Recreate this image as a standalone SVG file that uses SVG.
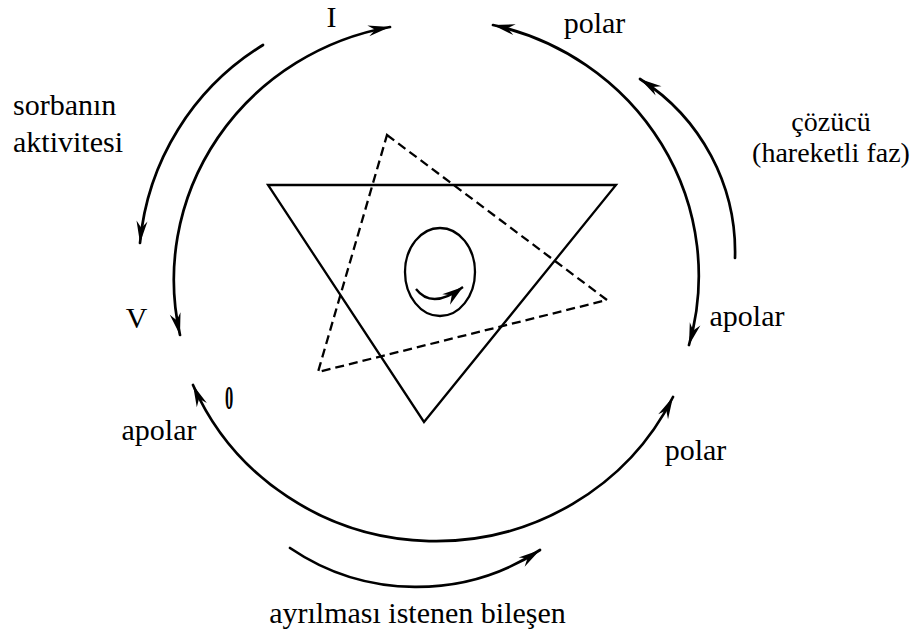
<svg xmlns="http://www.w3.org/2000/svg" width="924" height="644" viewBox="0 0 924 644">
<style>
.ln{fill:none;stroke:#000;stroke-width:2.7;stroke-linecap:round}
.sh{fill:none;stroke:#000;stroke-width:2.3;stroke-linejoin:miter}
.dash{fill:none;stroke:#000;stroke-width:2.3;stroke-dasharray:9 5}
.t{font-family:"Liberation Serif","Times New Roman",serif;font-size:30px;fill:#000}
.s{font-size:28px}
.m{text-anchor:middle}
</style>
<defs>
<marker id="ah" markerUnits="userSpaceOnUse" markerWidth="30" markerHeight="16" viewBox="-24 -8 26 16" refX="0" refY="0" orient="auto-start-reverse" overflow="visible">
<path d="M0,0 L-22,-5.5 L-15,0 L-22,5.5 Z" fill="#000"/>
</marker>
<marker id="ahs" markerUnits="userSpaceOnUse" markerWidth="24" markerHeight="16" viewBox="-22 -8 24 16" refX="0" refY="0" orient="auto" overflow="visible">
<path d="M0,0 L-21,-6.5 L-14,0 L-21,6.5 Z" fill="#000"/>
</marker>
</defs>
<rect width="924" height="644" fill="#fff"/>
<g id="connectors">
<path class="ln" d="M 180 335 A 264 257 0 0 1 390 27" marker-start="url(#ah)" marker-end="url(#ah)"/>
<path class="ln" d="M 493 25 A 264 257 0 0 1 689 345" marker-start="url(#ah)" marker-end="url(#ah)"/>
<path class="ln" d="M 673 397 A 264 257 0 0 1 193 385" marker-start="url(#ah)" marker-end="url(#ah)"/>
<path class="ln" d="M 263 45 A 260 260 0 0 0 140 243" marker-end="url(#ah)"/>
<path class="ln" d="M 735 258 A 205 205 0 0 0 640 79" marker-end="url(#ah)"/>
<path class="ln" d="M 290 548 A 225 225 0 0 0 540 550" marker-end="url(#ah)"/>
</g>
<g id="solid-triangle"><polygon class="sh" points="268,185 616,185 424,422"/></g>
<g id="dashed-triangle"><polygon class="dash" points="387,135 607,300 318,372"/></g>
<g id="ellipse">
<ellipse class="sh" cx="440" cy="272" rx="35" ry="44"/>
<path class="sh" d="M 416 289 Q 432 310 463 287" marker-end="url(#ahs)"/>
</g>
<g id="labels">
<text class="t m" x="331.5" y="27">I</text>
<text class="t m" x="594.5" y="33">polar</text>
<text class="t" x="13" y="115">sorbanın</text>
<text class="t" x="13" y="152">aktivitesi</text>
<text class="t s m" x="831" y="131">çözücü</text>
<text class="t s m" x="831" y="162">(hareketli faz)</text>
<text class="t m" x="136.5" y="328">V</text>
<text class="t m" x="747" y="326">apolar</text>
<text class="t m" x="159" y="440">apolar</text>
<text class="t m" x="695.5" y="460">polar</text>
<text class="t m" x="417.5" y="623">ayrılması istenen bileşen</text>
<text class="t m" transform="translate(229,409) scale(0.55,1.1)" style="font-weight:bold">0</text>
</g>
</svg>
